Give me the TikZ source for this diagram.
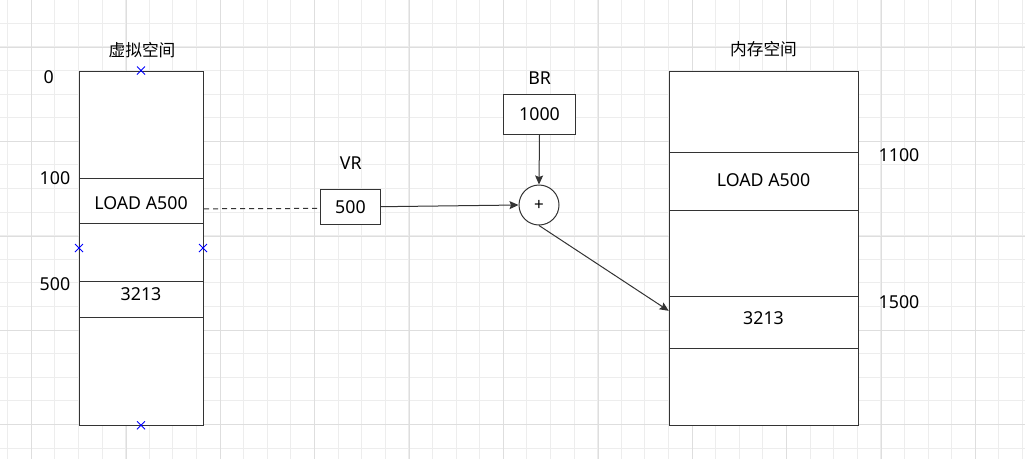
\documentclass[tikz,border=0pt]{standalone}
\usepackage{fontspec}
\setmainfont{Noto Sans}
\newfontfamily\cjk{Noto Sans CJK SC}
\usetikzlibrary{arrows.meta,calc}
\definecolor{ln}{HTML}{333333}
\definecolor{gminor}{HTML}{EDEDED}
\definecolor{gmajor}{HTML}{DEDEDE}
\newcommand\xmk[1]{\draw[xmark] ($(#1)+(-4,-4)$) -- ($(#1)+(4,4)$) ($(#1)+(-4,4)$) -- ($(#1)+(4,-4)$);}
\begin{document}
\begin{tikzpicture}[x=1pt,y=-1pt,
  cell/.style={draw=ln, line width=1pt, fill=white, inner sep=0pt, anchor=north west},
  box/.style={draw=ln, line width=1pt, fill=white, inner sep=0pt, font=\fontsize{17.8}{20}\selectfont},
  txt/.style={font=\fontsize{17.8}{20}\selectfont, anchor=base, inner sep=0pt},
  ctxt/.style={font=\cjk\fontsize{16.7}{20}\selectfont, inner sep=0pt},
  arr/.style={draw=ln, line width=1pt, -{Stealth[length=9pt,width=8pt,inset=1.5pt]}},
  dsh/.style={draw=ln, line width=1pt, dash pattern=on 5pt off 4pt},
  xmark/.style={draw=blue, line width=0.8pt}]
\fill[white] (0,0) rectangle (1025,459);
\useasboundingbox (0,0) rectangle (1025,459);
% grid
\foreach \i in {0,...,43}{\pgfmathsetmacro\gx{7.7+23.6*\i}\draw[gminor, line width=1pt] (\gx,0) -- (\gx,459);}
\foreach \i in {0,...,18}{\pgfmathsetmacro\gy{23.3+23.6*\i}\draw[gminor, line width=1pt] (0,\gy) -- (1025,\gy);}
\foreach \i in {0,...,10}{\pgfmathsetmacro\gx{31.7+94.4*\i}\draw[gmajor, line width=1pt] (\gx,0) -- (\gx,459);}
\foreach \i in {0,...,4}{\pgfmathsetmacro\gy{47.3+94.4*\i}\draw[gmajor, line width=1pt] (0,\gy) -- (1025,\gy);}

% left column (virtual space)
\node[cell, minimum width=124pt, minimum height=107.8pt] (L1) at (79,70.5) {};
\node[cell, minimum width=124pt, minimum height=45pt] (L2) at (79,178.3) {};
\node[cell, minimum width=124pt, minimum height=58pt] (L3) at (79,223.3) {};
\node[cell, minimum width=124pt, minimum height=35.7pt] (L4) at (79,281.3) {};
\node[cell, minimum width=124pt, minimum height=108.3pt] (L5) at (79,317) {};
\node[txt] (tL2) at (141,209.3) {LOAD A500};
\node[txt] (tL4) at (141,300) {3213};
\node[ctxt] (vtitle) at (142,50) {虚拟空间};
\node[txt] (a0) at (48.7,83.3) {0};
\node[txt] (a100) at (55,184) {100};
\node[txt] (a500) at (55,290.7) {500};
\coordinate (lt) at (141,70.5);
\coordinate (lb) at (141,425.3);
\coordinate (ll) at (79,248);
\coordinate (lr) at (203,248);
\xmk{lt}\xmk{lb}\xmk{ll}\xmk{lr}

% right column (memory space)
\node[cell, minimum width=189.6pt, minimum height=81.8pt] (R1) at (668.7,70.5) {};
\node[cell, minimum width=189.6pt, minimum height=58pt] (R2) at (668.7,152.3) {};
\node[cell, minimum width=189.6pt, minimum height=86pt] (R3) at (668.7,210.3) {};
\node[cell, minimum width=189.6pt, minimum height=51.7pt] (R4) at (668.7,296.3) {};
\node[cell, minimum width=189.6pt, minimum height=77pt] (R5) at (668.7,348) {};
\node[txt] (tR2) at (763.5,186) {LOAD A500};
\node[txt] (tR4) at (763.5,324.3) {3213};
\node[ctxt] (mtitle) at (763.5,48.8) {内存空间};
\node[txt] (a1100) at (899,161) {1100};
\node[txt] (a1500) at (899,308.3) {1500};

% registers
\node[box, minimum width=59.6pt, minimum height=34.7pt] (vr) at (350.5,206.7) {500};
\node[txt] (vrl) at (350.8,169) {VR};
\node[box, minimum width=71.6pt, minimum height=39.7pt] (br) at (539.5,114.2) {1000};
\node[txt] (brl) at (539.7,84.3) {BR};
\node[draw=ln, line width=1pt, fill=white, circle, minimum size=40pt, inner sep=0pt, font=\fontsize{17}{17}\selectfont] (sum) at (539,205) {+};

% connectors
\draw[dsh] ($(L2.east)+(0,7.5)$) -- ($(vr.west)+(0,1.7)$);
\draw[arr] (vr.east) -- (sum.west);
\draw[arr] (br.south) -- (sum.north);
\draw[arr] (sum.south) -- ($(R4.north west)+(0,14.5)$);
\end{tikzpicture}
\end{document}
